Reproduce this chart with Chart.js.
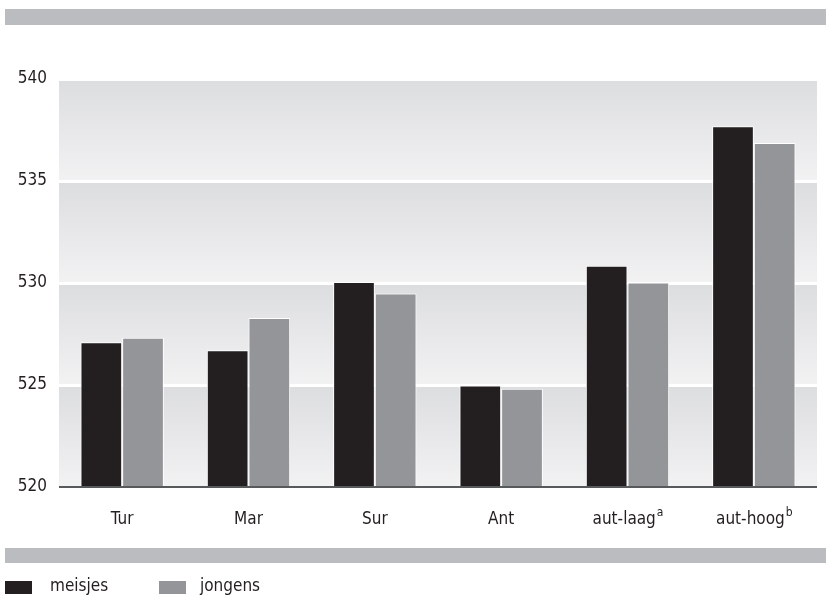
<!DOCTYPE html>
<html lang="nl">
<head>
    <meta charset="UTF-8">
    <title>meisjes en jongens</title>
    <script src="https://cdn.jsdelivr.net/npm/chart.js"></script>
    <style>
        body { margin: 0; background: #fff; }
    </style>
</head>
<body>
    <canvas id="chart" width="826" height="600"></canvas>

    <script>
        const categories = ['Tur', 'Mar', 'Sur', 'Ant', 'aut-laag', 'aut-hoog'];
        const superscripts = ['', '', '', '', 'a', 'b'];
        const meisjes = [527.1, 526.7, 530.05, 524.97, 530.85, 537.68];
        const jongens = [527.32, 528.28, 529.49, 524.82, 530.02, 536.86];
        const yTicks = [520, 525, 530, 535, 540];

        const FONT = "'DejaVu Sans Condensed', 'Liberation Sans Narrow', sans-serif";
        const TEXT = '#231f20';
        const STRIPE = '#bbbcbf';

        // gradient bands between the gridlines, plus the grey stripes
        const backdrop = {
            id: 'backdrop',
            beforeDraw(chart) {
                const ctx = chart.ctx;
                const area = chart.chartArea;
                const y = chart.scales.y;
                ctx.save();
                ctx.fillStyle = STRIPE;
                ctx.fillRect(5, 9, 821, 16);
                ctx.fillRect(5, 548, 821, 15);
                for (let i = 0; i < yTicks.length - 1; i++) {
                    const top = y.getPixelForValue(yTicks[i + 1]);
                    const bottom = y.getPixelForValue(yTicks[i]);
                    const g = ctx.createLinearGradient(0, top, 0, bottom);
                    g.addColorStop(0, '#dcdddf');
                    g.addColorStop(1, '#f2f2f3');
                    ctx.fillStyle = g;
                    ctx.fillRect(area.left, top, area.right - area.left, bottom - top);
                }
                ctx.restore();
            },
            afterDraw(chart) {
                const ctx = chart.ctx;
                const area = chart.chartArea;
                const x = chart.scales.x;
                ctx.save();
                // x axis line
                ctx.strokeStyle = '#58595b';
                ctx.lineWidth = 2;
                ctx.beginPath();
                ctx.moveTo(area.left, area.bottom);
                ctx.lineTo(area.right, area.bottom);
                ctx.stroke();

                // category labels with superscripts
                ctx.fillStyle = TEXT;
                ctx.textBaseline = 'middle';
                categories.forEach((label, i) => {
                    const cx = x.getPixelForValue(i);
                    ctx.font = '17px ' + FONT;
                    const w = ctx.measureText(label).width;
                    ctx.font = '12px ' + FONT;
                    const sw = superscripts[i] ? ctx.measureText(superscripts[i]).width : 0;
                    const start = cx - (w + sw) / 2;
                    ctx.font = '17px ' + FONT;
                    ctx.textAlign = 'left';
                    ctx.fillText(label, start, 520);
                    if (superscripts[i]) {
                        ctx.font = '12px ' + FONT;
                        ctx.fillText(superscripts[i], start + w + 1, 513);
                    }
                });

                // legend
                const legendBox = [5, 159];
                const legendText = [50, 200];
                chart.data.datasets.forEach((ds, i) => {
                    ctx.fillStyle = ds.backgroundColor;
                    ctx.fillRect(legendBox[i], 581, 27, 13);
                    ctx.fillStyle = TEXT;
                    ctx.font = '17px ' + FONT;
                    ctx.textAlign = 'left';
                    ctx.fillText(ds.label, legendText[i], 587);
                });
                ctx.restore();
            }
        };

        new Chart(document.getElementById('chart'), {
            type: 'bar',
            data: {
                labels: categories,
                datasets: [
                    {
                        label: 'meisjes',
                        data: meisjes,
                        backgroundColor: '#231f20',
                        borderColor: '#ffffff',
                        borderWidth: 1
                    },
                    {
                        label: 'jongens',
                        data: jongens,
                        backgroundColor: '#939598',
                        borderColor: '#ffffff',
                        borderWidth: 1
                    }
                ]
            },
            options: {
                responsive: false,
                animation: false,
                layout: { padding: { top: 79, right: 9, bottom: 105, left: 0 } },
                plugins: {
                    legend: { display: false },
                    tooltip: { enabled: false }
                },
                datasets: {
                    bar: { categoryPercentage: 0.66, barPercentage: 1 }
                },
                scales: {
                    x: {
                        grid: { display: false },
                        border: { display: false },
                        ticks: { display: false }
                    },
                    y: {
                        min: 520,
                        max: 540,
                        afterFit(scale) { scale.width = 59; },
                        afterBuildTicks(scale) {
                            scale.ticks = yTicks.map(v => ({ value: v }));
                        },
                        grid: {
                            color: c => (c.tick && c.tick.value === 520) ? 'rgba(0,0,0,0)' : '#ffffff',
                            lineWidth: 3,
                            drawTicks: false
                        },
                        border: { display: false },
                        ticks: {
                            padding: 12,
                            color: TEXT,
                            font: { family: FONT, size: 17 }
                        }
                    }
                }
            },
            plugins: [backdrop]
        });
    </script>
</body>
</html>
